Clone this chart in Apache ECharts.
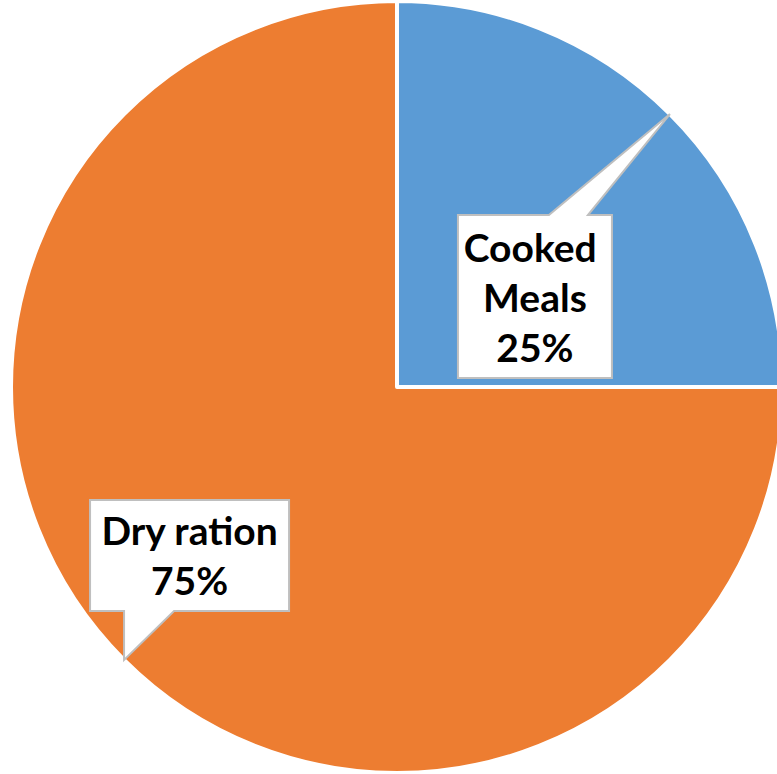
<!DOCTYPE html>
<html>
<head>
<meta charset="utf-8">
<script src="https://cdn.jsdelivr.net/npm/echarts@6/dist/echarts.min.js"></script>
<style>
  html, body { margin: 0; padding: 0; background: #ffffff; }
  #chart { width: 777px; height: 774px; }
</style>
</head>
<body>
<div id="chart"></div>
<script>
// Meal distribution shares (percent)
const categories = ['Cooked Meals', 'Dry ration'];
const shares = [25, 75];
const sliceColors = ['#5B9BD5', '#ED7D31'];

// Callout box geometry, relative to the pointer tip on the slice rim
const callouts = [
  { dx: -212, dy: 101, w: 154, h: 163, side: 'top',    base: [-121, -82] },
  { dx: -34,  dy: -160, w: 199, h: 111, side: 'bottom', base: [0, 50] }
];

const chart = echarts.init(document.getElementById('chart'), null, { renderer: 'svg' });

chart.setOption({
  animation: false,
  backgroundColor: '#ffffff',
  series: [{
    type: 'pie',
    center: [397, 387],
    radius: 386,
    startAngle: 90,
    clockwise: true,
    silent: true,
    label: { show: false },
    labelLine: { show: false },
    itemStyle: { borderColor: '#ffffff', borderWidth: 4 },
    data: categories.map((name, i) => ({
      name: name,
      value: shares[i],
      itemStyle: { color: sliceColors[i] }
    }))
  }]
});

// Locate the rim point at the middle of each slice from the pie's own layout
function sliceTip(i) {
  try {
    const data = chart.getModel().getSeriesByIndex(0).getData();
    const lay = data.getItemLayout(i);
    const mid = (lay.startAngle + lay.endAngle) / 2;
    return [lay.cx + lay.r * Math.cos(mid), lay.cy + lay.r * Math.sin(mid)];
  } catch (e) {
    const total = shares.reduce((a, b) => a + b, 0);
    let acc = 0;
    for (let k = 0; k < i; k++) acc += shares[k];
    const mid = -Math.PI / 2 + 2 * Math.PI * (acc + shares[i] / 2) / total;
    return [397 + 386 * Math.cos(mid), 387 + 386 * Math.sin(mid)];
  }
}

const total = shares.reduce((a, b) => a + b, 0);
const elements = [];
categories.forEach((name, i) => {
  const c = callouts[i];
  const [tx, ty] = sliceTip(i);
  const L = tx + c.dx, T = ty + c.dy, R = L + c.w, B = T + c.h;
  const b1 = tx + c.base[0], b2 = tx + c.base[1];
  const pts = c.side === 'top'
    ? [[L, T], [b1, T], [tx, ty], [b2, T], [R, T], [R, B], [L, B]]
    : [[L, T], [R, T], [R, B], [b2, B], [tx, ty], [b1, B], [L, B]];
  elements.push({
    type: 'polygon',
    z: 10,
    shape: { points: pts },
    style: { fill: '#ffffff', stroke: '#BFBFBF', lineWidth: 2, lineJoin: 'miter' }
  });
  const pct = Math.round(shares[i] / total * 100) + '%';
  elements.push({
    type: 'text',
    z: 11,
    x: (L + R) / 2,
    y: (T + B) / 2,
    style: {
      text: name + '\n' + pct,
      width: c.w - 8,
      overflow: 'break',
      align: 'center',
      verticalAlign: 'middle',
      font: 'bold 39px Lato',
      lineHeight: 50,
      fill: '#000000'
    }
  });
});

chart.setOption({ graphic: { elements: elements } });
</script>
</body>
</html>
